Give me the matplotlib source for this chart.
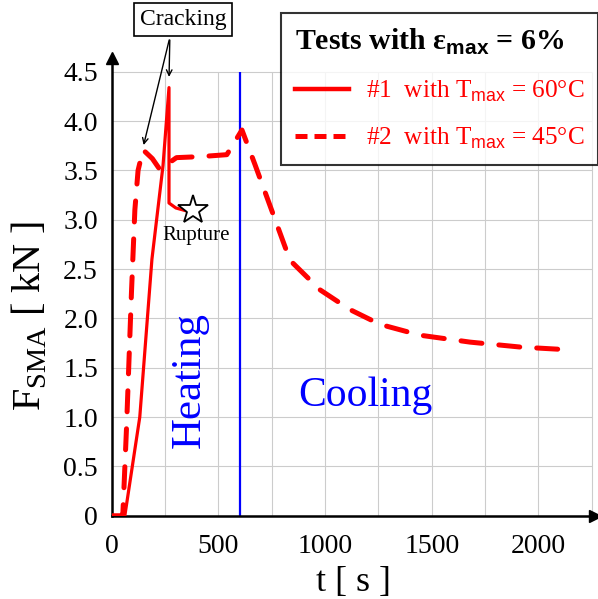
import numpy as np
import matplotlib
matplotlib.use("Agg")
import matplotlib.pyplot as plt
from matplotlib.lines import Line2D

plt.rcParams['font.family'] = ['Liberation Serif', 'DejaVu Serif']
plt.rcParams['mathtext.fontset'] = 'custom'
plt.rcParams['mathtext.rm'] = 'Liberation Serif'
plt.rcParams['mathtext.sf'] = 'Liberation Sans'
plt.rcParams['mathtext.bf'] = 'Liberation Sans:bold'

# test #1, T_max = 60 C (solid)
t1 = [0, 55, 61, 131, 188, 240, 268, 268, 300, 366]
f1 = [0, 0, 0.0, 1.0, 2.6, 3.55, 4.34, 3.17, 3.12, 3.08]

# test #2, T_max = 45 C (dashed)
t2 = [0, 45, 52, 69, 92, 108, 123, 146, 190, 225, 303, 413, 539, 610, 671,
      835, 976, 1116, 1257, 1445, 1679, 1914, 2158]
f2 = [0, 0, 0.03, 0.9, 2.26, 3.1, 3.5, 3.71, 3.62, 3.51, 3.63, 3.64, 3.66,
      3.91, 3.56, 2.59, 2.29, 2.09, 1.94, 1.83, 1.76, 1.71, 1.68]

t_switch = 600
rupture = (380, 3.1)
x_ticks = [0, 500, 1000, 1500, 2000]
x_grid = np.arange(0, 2251, 250)
y_ticks = [0, 0.5, 1.0, 1.5, 2.0, 2.5, 3.0, 3.5, 4.0, 4.5]
y_labels = ['0', '0.5', '1.0', '1.5', '2.0', '2.5', '3.0', '3.5', '4.0', '4.5']

fig = plt.figure(figsize=(5.98, 5.99), dpi=100)
ax = fig.add_axes([0.187, 0.139, 0.808, 0.765])
ax.set_xlim(0, 2265)
ax.set_ylim(0, 4.645)

# grid limited to the data frame
ax.vlines(x_grid, 0, 4.5, color='#cccccc', lw=0.8, zorder=0)
ax.hlines(y_ticks, 0, 2250, color='#cccccc', lw=0.8, zorder=0)

ax.plot(t1, f1, color='red', lw=2.3, zorder=3)
ax.plot(t2, f2, color='red', lw=3.6, dashes=(4.2, 3.4), dash_capstyle='round', zorder=3)
ax.vlines(t_switch, 0, 4.5, color='blue', lw=1.6, zorder=2)

ax.plot(*rupture, marker='*', ms=22, mfc='white', mec='black', mew=1.3, zorder=4)
ax.text(394, 2.84, 'Rupture', fontsize=15, ha='center', va='center')

ax.text(333, 5.03, 'Cracking', fontsize=17, ha='center', va='center',
        bbox=dict(boxstyle='square,pad=0.25', fc='white', ec='black', lw=1.2),
        clip_on=False)
for tip in [(146, 3.73), (268, 4.42)]:
    ax.annotate('', xy=tip, xytext=(272, 4.85), annotation_clip=False,
                arrowprops=dict(arrowstyle='->', color='black', lw=1.0))

ax.text(366, 1.38, 'Heating', color='blue', fontsize=31, rotation=90,
        ha='center', va='center')
ax.text(1190, 1.22, 'Cooling', color='blue', fontsize=30, ha='center', va='center')

for s in ['top', 'right']:
    ax.spines[s].set_visible(False)
for s in ['left', 'bottom']:
    ax.spines[s].set_linewidth(1.8)
ax.plot(1, 0, '>k', ms=8, transform=ax.get_yaxis_transform(), clip_on=False)
ax.plot(0, 1, '^k', ms=8, transform=ax.get_xaxis_transform(), clip_on=False)

ax.set_xticks(x_ticks)
ax.set_yticks(y_ticks)
ax.set_yticklabels(y_labels)
ax.tick_params(length=0, labelsize=20)
ax.tick_params(axis='x', pad=13)
ax.tick_params(axis='y', pad=10)
ax.set_xlabel('t [ s ]', fontsize=26, labelpad=5)
ax.set_ylabel(r'F$_{\mathrm{SMA}}$ [ kN ]', fontsize=29)
ax.yaxis.set_label_coords(-0.13, 0.437)

handles = [Line2D([], [], color='red', lw=3.2),
           Line2D([], [], color='red', lw=3.6, dashes=(2.4, 1.4))]
labels = [r'#1  with T$_{\mathsf{max}}$ = 60°C', r'#2  with T$_{\mathsf{max}}$ = 45°C']
leg = fig.legend(handles, labels, loc='upper right',
                 bbox_to_anchor=(1.0, 1 - 13 / 599), borderaxespad=0,
                 fontsize=18.2, labelcolor='red', handlelength=2.16,
                 handletextpad=0.64, frameon=True, fancybox=False,
                 edgecolor='black', borderpad=0.55, labelspacing=0.86,
                 title=r'Tests with ε$_{\mathbf{max}}$ = 6%',
                 title_fontproperties={'size': 21.5, 'weight': 'bold'},
                 alignment='left')
leg.get_frame().set_linewidth(1.5)

fig.savefig('out.png', dpi=100)
